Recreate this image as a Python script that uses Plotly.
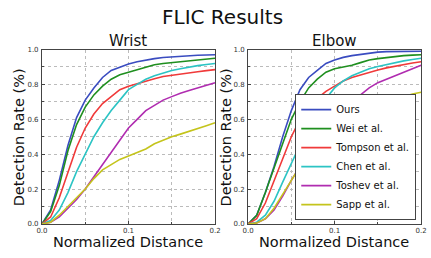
import plotly.graph_objects as go

dist = [0.0, 0.01, 0.02, 0.03, 0.04, 0.05, 0.06, 0.07, 0.08, 0.09, 0.10, 0.11, 0.12, 0.13, 0.14, 0.15, 0.16, 0.17, 0.18, 0.19, 0.20]

methods = ["Ours", "Wei et al.", "Tompson et al.", "Chen et al.", "Toshev et al.", "Sapp et al."]
colors = ["#3a4cc0", "#1f8f1f", "#f03a3a", "#2cc4c4", "#b02cb0", "#c4c41c"]

wrist_ours = [0.0, 0.08, 0.25, 0.45, 0.61, 0.71, 0.78, 0.84, 0.88, 0.90, 0.917, 0.93, 0.94, 0.948, 0.954, 0.958, 0.962, 0.965, 0.967, 0.969, 0.97]
wrist_wei = [0.0, 0.07, 0.22, 0.42, 0.57, 0.67, 0.74, 0.79, 0.83, 0.855, 0.87, 0.885, 0.90, 0.913, 0.92, 0.925, 0.932, 0.938, 0.943, 0.947, 0.95]
wrist_tompson = [0.0, 0.04, 0.15, 0.30, 0.44, 0.55, 0.63, 0.69, 0.73, 0.77, 0.79, 0.805, 0.82, 0.833, 0.845, 0.853, 0.86, 0.867, 0.873, 0.879, 0.885]
wrist_chen = [0.0, 0.02, 0.08, 0.18, 0.30, 0.40, 0.50, 0.58, 0.65, 0.71, 0.77, 0.80, 0.83, 0.85, 0.865, 0.88, 0.89, 0.90, 0.908, 0.914, 0.92]
wrist_toshev = [0.0, 0.01, 0.04, 0.09, 0.14, 0.20, 0.27, 0.34, 0.41, 0.48, 0.55, 0.60, 0.65, 0.68, 0.71, 0.73, 0.75, 0.765, 0.78, 0.795, 0.81]
wrist_sapp = [0.0, 0.01, 0.05, 0.10, 0.15, 0.20, 0.26, 0.31, 0.34, 0.37, 0.39, 0.41, 0.43, 0.46, 0.48, 0.50, 0.515, 0.53, 0.547, 0.563, 0.58]

elbow_ours = [0.0, 0.05, 0.18, 0.33, 0.50, 0.65, 0.77, 0.84, 0.88, 0.92, 0.94, 0.955, 0.965, 0.973, 0.98, 0.985, 0.988, 0.989, 0.99, 0.99, 0.99]
elbow_wei = [0.0, 0.05, 0.18, 0.32, 0.47, 0.60, 0.70, 0.78, 0.83, 0.87, 0.89, 0.90, 0.91, 0.925, 0.94, 0.948, 0.955, 0.96, 0.965, 0.968, 0.97]
elbow_tompson = [0.0, 0.03, 0.12, 0.25, 0.38, 0.50, 0.60, 0.67, 0.72, 0.76, 0.79, 0.82, 0.84, 0.855, 0.87, 0.883, 0.895, 0.905, 0.915, 0.923, 0.93]
elbow_chen = [0.0, 0.01, 0.05, 0.13, 0.24, 0.35, 0.46, 0.56, 0.65, 0.72, 0.78, 0.82, 0.85, 0.87, 0.89, 0.903, 0.915, 0.925, 0.935, 0.943, 0.95]
elbow_toshev = [0.0, 0.005, 0.03, 0.08, 0.16, 0.25, 0.33, 0.41, 0.49, 0.56, 0.62, 0.66, 0.70, 0.74, 0.78, 0.81, 0.83, 0.85, 0.87, 0.89, 0.91]
elbow_sapp = [0.0, 0.005, 0.03, 0.09, 0.17, 0.25, 0.33, 0.40, 0.46, 0.50, 0.54, 0.565, 0.59, 0.615, 0.64, 0.66, 0.68, 0.705, 0.73, 0.745, 0.755]

wrist = [wrist_ours, wrist_wei, wrist_tompson, wrist_chen, wrist_toshev, wrist_sapp]
elbow = [elbow_ours, elbow_wei, elbow_tompson, elbow_chen, elbow_toshev, elbow_sapp]

W, H = 431, 258


def px(x):
    return x / W


def py(y):
    return 1 - y / H


fig = go.Figure()
for name, col, ys in zip(methods, colors, wrist):
    fig.add_trace(go.Scatter(x=dist, y=ys, mode="lines", name=name, showlegend=False,
                             line=dict(color=col, width=1.6), xaxis="x", yaxis="y"))
for name, col, ys in zip(methods, colors, elbow):
    fig.add_trace(go.Scatter(x=dist, y=ys, mode="lines", name=name, showlegend=True,
                             line=dict(color=col, width=1.6), xaxis="x2", yaxis="y2"))

ax_common = dict(
    showline=True, mirror=True, linecolor="#444", linewidth=1,
    ticks="inside", ticklen=3, tickcolor="#444",
    tickfont=dict(size=7, color="#333", family="DejaVu Sans"),
    showgrid=True, gridcolor="#bbbbbb", griddash="dot", gridwidth=1,
    zeroline=False,
)
minor = dict(showgrid=True, gridcolor="#bbbbbb", griddash="dot", ticks="inside", ticklen=2, tickcolor="#444")
xcommon = dict(ax_common, range=[0, 0.2], dtick=0.1, tick0=0, tickformat=".1f", ticklabelstandoff=0,
               minor=dict(minor, dtick=0.05))
ycommon = dict(ax_common, range=[0, 1.0], dtick=0.2, tick0=0, tickformat=".1f", ticklabelstandoff=1,
               minor=dict(minor, dtick=0.1))

fig.update_layout(
    width=W, height=H,
    margin=dict(l=0, r=0, t=0, b=0),
    paper_bgcolor="white", plot_bgcolor="white",
    font=dict(family="DejaVu Sans", color="#111"),
    xaxis=dict(xcommon, domain=[px(37), px(215)], anchor="y"),
    yaxis=dict(ycommon, domain=[py(227), py(47)], anchor="x"),
    xaxis2=dict(xcommon, domain=[px(249), px(427)], anchor="y2"),
    yaxis2=dict(ycommon, domain=[py(227), py(47)], anchor="x2"),
    legend=dict(x=px(422), xanchor="right", y=py(223), yanchor="bottom",
                bordercolor="#444", borderwidth=1, bgcolor="white",
                font=dict(size=10, family="DejaVu Sans", color="#111"),
                tracegroupgap=0, itemwidth=30),
)

annots = [
    dict(text="FLIC Results", x=223, y=13, size=20, angle=0),
    dict(text="Wrist", x=125.5, y=38, size=15, angle=0),
    dict(text="Elbow", x=338, y=38, size=15, angle=0),
    dict(text="Normalized Distance", x=126, y=246, size=14.5, angle=0),
    dict(text="Normalized Distance", x=337.5, y=246, size=14.5, angle=0),
    dict(text="Detection Rate (%)", x=13, y=138, size=14.5, angle=-90),
    dict(text="Detection Rate (%)", x=226, y=138, size=14.5, angle=-90),
]
for a in annots:
    fig.add_annotation(text=a["text"], x=px(a["x"]), y=py(a["y"]), xref="paper", yref="paper",
                       xanchor="center", yanchor="middle", showarrow=False, textangle=a["angle"],
                       font=dict(size=a["size"], family="DejaVu Sans", color="#111"))

fig.write_html("out.html", config={"displayModeBar": False},
               post_script="document.body.style.margin='0';")
